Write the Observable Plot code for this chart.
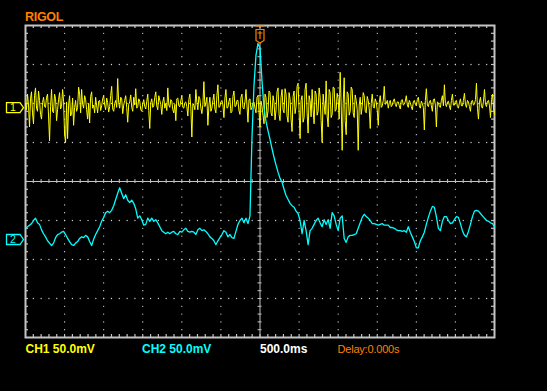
<!DOCTYPE html>
<html><head><meta charset="utf-8">
<script src="https://cdn.jsdelivr.net/npm/d3@7"></script>
<script src="https://cdn.jsdelivr.net/npm/@observablehq/plot@0.6"></script>
<style>
html,body{margin:0;padding:0;background:#000;}
#wrap{position:relative;width:547px;height:391px;background:#000;overflow:hidden;font-family:"Liberation Sans",Arial,sans-serif;}
#chart{position:absolute;left:0;top:0;}
.lbl{position:absolute;white-space:nowrap;line-height:1;}
</style></head><body>
<div id="wrap">
  <div id="chart"></div>
  <div class="lbl" id="brand" style="left:25px;top:10.5px;font-size:12.5px;font-weight:bold;color:#ff8000;letter-spacing:-0.3px">RIGOL</div>
  <div class="lbl" id="ch1lbl" style="left:25.5px;top:342.8px;font-size:12px;font-weight:bold;color:#ffff00"></div>
  <div class="lbl" id="ch2lbl" style="left:142px;top:342.8px;font-size:12px;font-weight:bold;color:#00ffff"></div>
  <div class="lbl" id="tblbl" style="left:260px;top:342.8px;font-size:12px;font-weight:bold;color:#ffffff"></div>
  <div class="lbl" id="dlylbl" style="left:337.5px;top:343.7px;font-size:11px;color:#ff8000;letter-spacing:-0.2px"></div>
</div>
<script>
// ---- scope settings ----
const timePerDivMs = 500;     // horizontal: 500.0 ms/div, 12 divisions
const voltsPerDivMv = 50;     // vertical: 50.0 mV/div, 8 divisions
const hDivs = 12, vDivs = 8;
const ch1GroundMv = 94;       // CH1 marker level (screen mV)
const ch2GroundMv = -75;      // CH2 marker level (screen mV)
const triggerTimeMs = 0;
const labels = ["CH1 50.0mV", "CH2 50.0mV", "500.0ms", "Delay:0.000s"];

// ---- traces (screen mV), evenly sampled across the 6 s screen ----
const ch1 = [
100,92,112,98,70,106,115,88,74,110,120,94,90,116,104,86,80,101,108,96,
95,108,112,84,52,96,118,90,88,112,106,78,92,105,114,93,96,118,103,60,
50,102,55,98,110,84,86,107,72,95,104,90,95,121,112,88,118,99,94,110,
105,92,80,100,75,109,115,94,98,88,108,97,88,103,104,91,97,106,110,98,
92,107,101,89,96,110,122,93,90,100,104,95,132,101,94,108,106,87,98,104,
110,95,76,99,102,111,95,90,108,98,119,94,96,106,103,92,90,100,105,96,
93,103,112,91,68,101,106,95,97,108,115,97,92,110,104,99,86,102,108,94,
100,91,120,98,95,105,103,92,88,99,78,106,107,97,96,104,110,95,94,101,
102,96,84,105,112,94,57,100,98,92,118,101,92,109,106,94,87,99,128,96,
100,108,72,97,108,90,94,104,112,93,88,110,124,95,96,102,104,98,82,107,
118,94,95,103,107,88,90,109,116,96,97,104,104,91,86,108,112,95,93,102,
118,97,76,105,106,92,95,101,102,94,88,108,110,90,70,103,96,85,74,112,
108,82,90,116,114,88,84,110,102,79,92,115,120,86,78,108,118,92,88,119,
112,84,76,114,106,80,64,109,116,87,96,122,126,90,55,104,110,76,82,118,
126,88,62,110,104,83,118,92,74,116,112,85,90,120,108,78,50,112,98,86,
129,84,70,118,114,82,86,121,120,90,92,113,106,80,140,98,40,100,133,78,
60,115,112,85,90,121,118,88,82,111,104,92,40,98,108,86,96,114,110,90,
88,109,104,93,68,100,112,96,94,106,102,91,72,101,110,95,97,104,122,99,
100,104,94,101,104,96,98,103,106,99,96,102,102,97,93,104,105,98,99,103,
110,98,95,104,101,96,92,102,104,99,97,105,108,97,94,103,100,95,66,104,
119,98,96,102,104,97,90,105,106,98,70,102,101,96,95,104,110,97,124,100,
96,102,103,97,92,104,112,98,98,103,104,96,94,101,106,97,97,104,113,99,
95,104,102,96,90,103,104,98,99,105,126,94,80,102,108,96,94,103,118,99,
96,103,104,97,82,105,112,95,86];

const ch2 = [
-60,-58,-56,-54,-50,-47,-53,-55,-62,-67,
-71,-76,-79,-82,-79,-72,-68,-67,-65,-64,
-68,-73,-77,-81,-82,-79,-77,-73,-71,-72,
-69,-71,-77,-82,-74,-68,-63,-58,-51,-46,
-40,-38,-40,-37,-31,-23,-15,-8,-15,-22,
-17,-24,-27,-24,-28,-35,-47,-44,-49,-56,
-55,-47,-51,-47,-51,-49,-53,-58,-63,-65,
-67,-65,-67,-65,-64,-67,-68,-64,-65,-62,
-60,-64,-65,-64,-65,-68,-62,-60,-63,-62,
-64,-67,-71,-73,-76,-81,-76,-72,-68,-63,
-65,-71,-68,-72,-73,-64,-55,-50,-47,-53,
-47,-54,-44,56,123,162,177,171,129,94,
77,65,54,42,31,21,12,4,-1,-10,
-18,-23,-28,-31,-33,-38,-41,-50,-67,-50,
-63,-81,-63,-60,-55,-50,-47,-53,-58,-49,
-55,-49,-60,-40,-44,-55,-63,-47,-44,-73,
-78,-71,-69,-69,-68,-67,-60,-53,-46,-42,
-45,-47,-50,-54,-54,-55,-56,-55,-54,-56,
-56,-56,-59,-59,-60,-62,-63,-63,-64,-63,
-65,-58,-65,-71,-77,-85,-85,-76,-71,-65,
-55,-46,-38,-32,-33,-45,-60,-63,-51,-45,
-45,-50,-54,-53,-49,-45,-46,-54,-63,-69,
-71,-64,-55,-45,-38,-37,-38,-41,-44,-47,
-50,-51,-53,-54,-58];

// ---- derived ----
const tMax = timePerDivMs * hDivs / 2, vMax = voltsPerDivMv * vDivs / 2;
const toSeries = arr => arr.map((v, i) => ({t: -tMax + i * (2 * tMax) / (arr.length - 1), v}));
const s1 = toSeries(ch1), s2 = toSeries(ch2);
const minorT = d3.range(-tMax, tMax + 1e-9, timePerDivMs / 5);
const minorV = d3.range(-vMax, vMax + 1e-9, voltsPerDivMv / 5);
const majorT = d3.range(-tMax + timePerDivMs, tMax, timePerDivMs).filter(t => Math.abs(t) > 1e-9);
const majorV = d3.range(-vMax + voltsPerDivMv, vMax, voltsPerDivMv).filter(v => Math.abs(v) > 1e-9);
const gridDots = [];
for (const t of majorT) for (const v of minorV) if (Math.abs(v) < vMax - 1e-9) gridDots.push({t, v});
for (const v of majorV) for (const t of minorT) if (Math.abs(t) < tMax - 1e-9) gridDots.push({t, v});
const innerT = minorT.filter(t => Math.abs(t) < tMax - 1e-9);
const innerV = minorV.filter(v => Math.abs(v) < vMax - 1e-9);

const W = 547, H = 391, mL = 25, mR = 53, mT = 25, mB = 54;
const iW = W - mL - mR, iH = H - mT - mB;
const gray = "#c4c4c4";

const plot = Plot.plot({
  width: W, height: H,
  marginLeft: mL, marginRight: mR, marginTop: mT, marginBottom: mB,
  style: {background: "#000", overflow: "visible"},
  x: {domain: [-tMax, tMax], axis: null},
  y: {domain: [-vMax, vMax], axis: null},
  marks: [
    Plot.dot(gridDots, {x: "t", y: "v", r: 0.65, fill: "#d8d8d8", stroke: null}),
    Plot.ruleY([0], {stroke: gray, strokeWidth: 1}),
    Plot.ruleX([0], {stroke: gray, strokeWidth: 1}),
    Plot.tickX(innerT, {x: d => d, stroke: gray, insetTop: iH / 2 - 2, insetBottom: iH / 2 - 2}),
    Plot.tickY(innerV, {y: d => d, stroke: gray, insetLeft: iW / 2 - 2, insetRight: iW / 2 - 2}),
    Plot.tickX(innerT, {x: d => d, stroke: gray, strokeWidth: 1.2, insetBottom: iH - 3}),
    Plot.tickX(innerT, {x: d => d, stroke: gray, strokeWidth: 1.2, insetTop: iH - 3}),
    Plot.tickY(innerV, {y: d => d, stroke: gray, strokeWidth: 1.2, insetRight: iW - 3}),
    Plot.tickY(innerV, {y: d => d, stroke: gray, strokeWidth: 1.2, insetLeft: iW - 3}),
    Plot.frame({stroke: gray, strokeWidth: 2}),
    Plot.line(s1, {x: "t", y: "v", stroke: "#ffff00", strokeWidth: 1, curve: "linear"}),
    Plot.line(s2, {x: "t", y: "v", stroke: "#00ffff", strokeWidth: 1.3, curve: "linear"})
  ]
});
document.getElementById("chart").appendChild(plot);

// ---- channel & trigger markers placed through the plot's scales ----
const sx = plot.scale("x"), sy = plot.scale("y");
const svg = d3.select(plot);
function chMarker(level, color, txt) {
  const c = sy.apply(level);
  const g = svg.append("g");
  g.append("path").attr("d", `M6.5,${c - 5}H20L23.5,${c}L20,${c + 5}H6.5Z`)
    .attr("fill", "none").attr("stroke", color).attr("stroke-width", 1.3);
  g.append("text").attr("x", 13).attr("y", c + 3.6).attr("text-anchor", "middle")
    .attr("font-family", "Liberation Sans, Arial, sans-serif").attr("font-size", 10.5)
    .attr("fill", color).text(txt);
}
chMarker(ch1GroundMv, "#ffff00", "1");
chMarker(ch2GroundMv, "#00ffff", "2");

const tx = sx.apply(triggerTimeMs) + 0.5, topY = mT;
const tg = svg.append("g").attr("stroke", "#ff7f00").attr("fill", "none").attr("stroke-width", 1.2);
tg.append("path").attr("d", `M${tx - 4.5},${topY + 1}H${tx + 4.5}`);
tg.append("path").attr("d", `M${tx - 4},${topY + 4.5}H${tx + 4}V${topY + 15.5}L${tx},${topY + 18}L${tx - 4},${topY + 15.5}Z`).attr("fill", "#000");
tg.append("path").attr("d", `M${tx - 2.5},${topY + 8}H${tx + 2.5}M${tx},${topY + 6}V${topY + 14}`);

document.getElementById("ch1lbl").textContent = labels[0];
document.getElementById("ch2lbl").textContent = labels[1];
document.getElementById("tblbl").textContent = labels[2];
document.getElementById("dlylbl").textContent = labels[3];
</script>
</body></html>
